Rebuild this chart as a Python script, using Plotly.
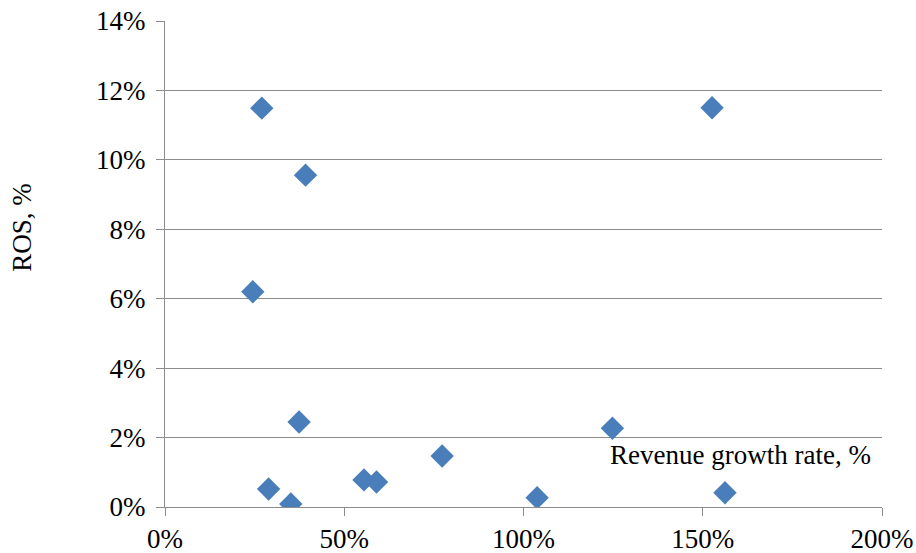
import plotly.graph_objects as go

# Revenue growth rate vs. return on sales for each company
revenue_growth = [0.270, 0.392, 0.245, 0.374, 0.289, 0.351, 0.555, 0.590, 0.773,
                  1.038, 1.248, 1.526, 1.562]
ros = [0.1149, 0.0956, 0.0620, 0.0245, 0.0052, 0.0009, 0.0078, 0.0072, 0.0147,
       0.0027, 0.0227, 0.1150, 0.0041]

x_tickvals = [0, 0.5, 1.0, 1.5, 2.0]
x_ticktext = ["0%", "50%", "100%", "150%", "200%"]
y_tickvals = [0, 0.02, 0.04, 0.06, 0.08, 0.10, 0.12, 0.14]
y_ticktext = ["0%", "2%", "4%", "6%", "8%", "10%", "12%", "14%"]

FONT = "Liberation Serif, Times New Roman, serif"
FSIZE = 27
GRID = "#8c8c8c"

fig = go.Figure(
    go.Scatter(
        x=revenue_growth,
        y=ros,
        mode="markers",
        marker=dict(symbol="diamond", size=18, color="#4A7EBB",
                    line=dict(width=0)),
        showlegend=False,
        hoverinfo="x+y",
    )
)

fig.update_layout(
    width=916,
    height=553,
    margin=dict(l=165, r=34, t=21, b=46),
    paper_bgcolor="white",
    plot_bgcolor="white",
    font=dict(family=FONT, size=FSIZE, color="black"),
    xaxis=dict(
        range=[0, 2.0],
        tickvals=x_tickvals,
        ticktext=x_ticktext,
        showgrid=False,
        zeroline=False,
        showline=True,
        linecolor=GRID,
        linewidth=1,
        ticks="outside",
        ticklen=8,
        tickcolor=GRID,
        tickfont=dict(family=FONT, size=FSIZE),
        automargin=False,
    ),
    yaxis=dict(
        range=[0, 0.14],
        tickvals=y_tickvals,
        ticktext=y_ticktext,
        showgrid=True,
        gridcolor=GRID,
        gridwidth=1,
        zeroline=False,
        showline=True,
        linecolor=GRID,
        linewidth=1,
        ticks="outside",
        ticklen=8,
        tickcolor=GRID,
        tickfont=dict(family=FONT, size=FSIZE),
        ticklabelstandoff=5,
        automargin=False,
    ),
    annotations=[
        dict(
            text="ROS, %",
            x=-0.2, y=0.576,
            xref="paper", yref="paper",
            xanchor="center", yanchor="middle",
            textangle=-90,
            showarrow=False,
            font=dict(family=FONT, size=FSIZE, color="black"),
        ),
        dict(
            text="Revenue growth rate, %",
            x=1.2355, y=0.0150,
            xref="x", yref="y",
            xanchor="left", yanchor="middle",
            showarrow=False,
            font=dict(family=FONT, size=FSIZE, color="black"),
        ),
    ],
)

fig.write_html("out.html")
